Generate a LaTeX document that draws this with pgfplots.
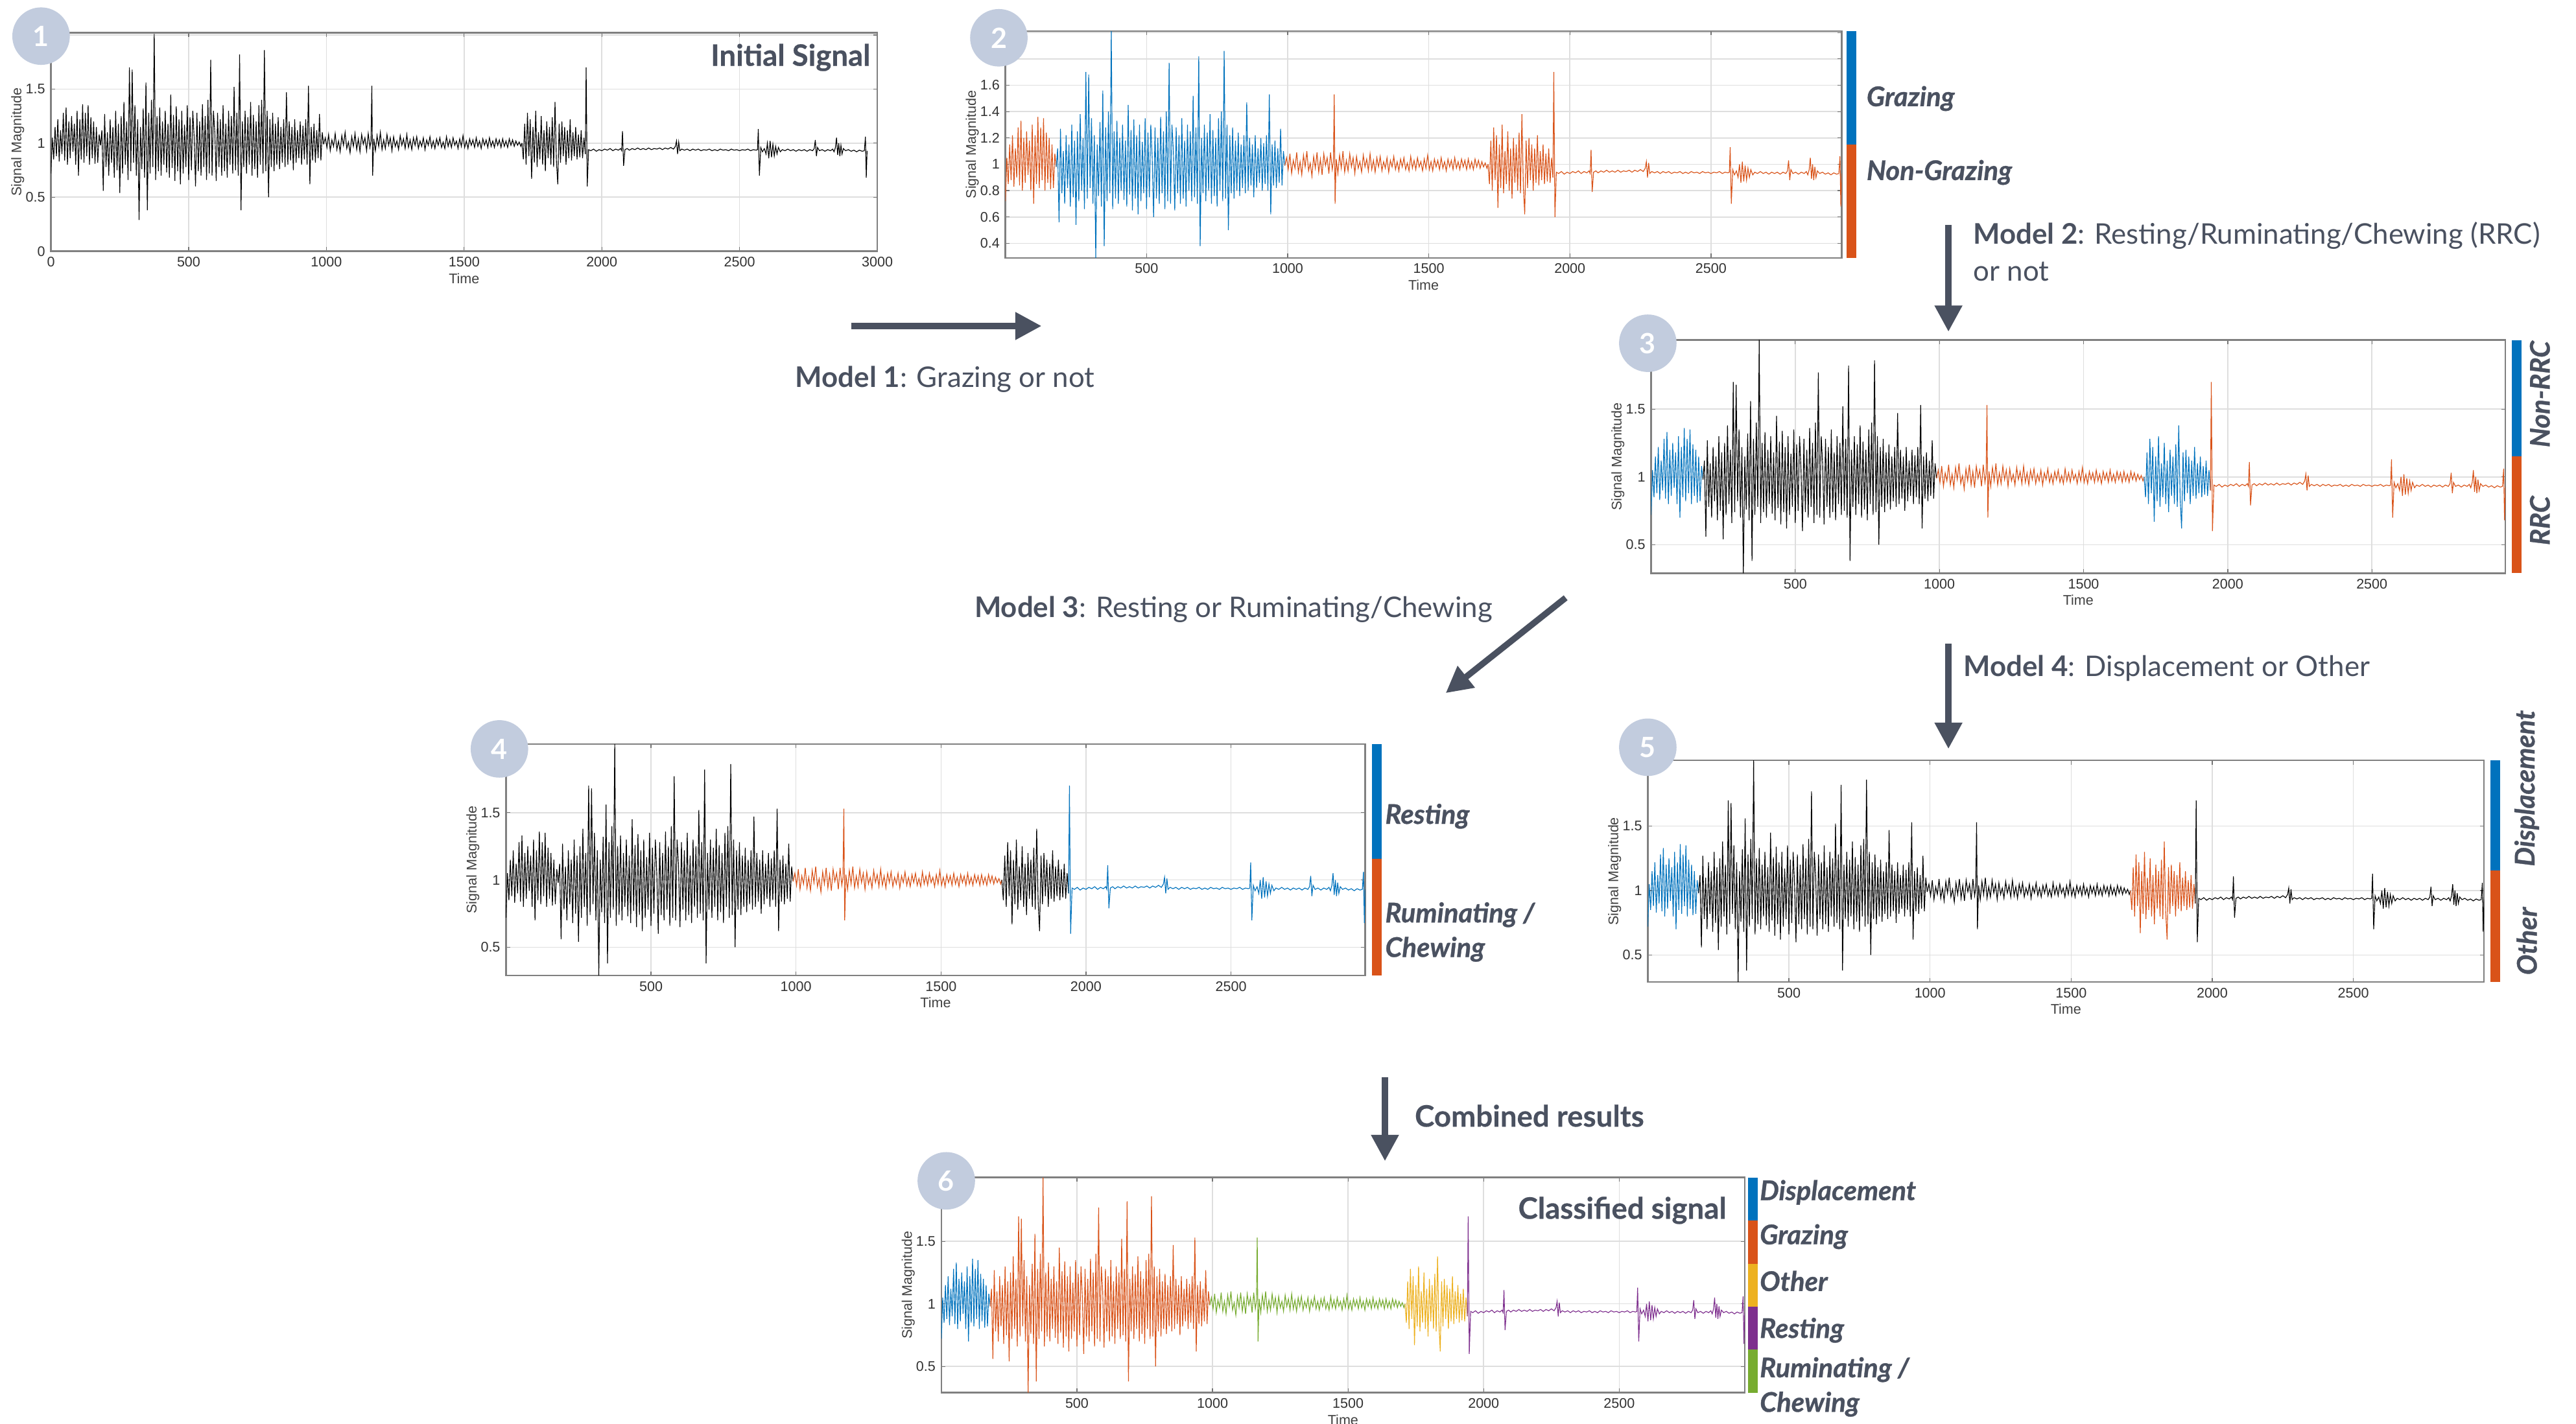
\documentclass[border=0pt]{standalone}
\usepackage{fontspec}
\setmainfont{Lato}
\newfontfamily\helv{Liberation Sans}
\usepackage{pgfplots}
\pgfplotsset{compat=1.18}
\usepackage{pgfplotstable}
\usetikzlibrary{arrows.meta}

\definecolor{mblue}{RGB}{0,114,189}
\definecolor{morange}{RGB}{217,83,25}
\definecolor{myellow}{RGB}{237,177,32}
\definecolor{mpurple}{RGB}{126,47,142}
\definecolor{mgreen}{RGB}{119,172,48}
\definecolor{slate}{RGB}{74,81,96}
\definecolor{badge}{RGB}{194,204,222}

% segment A: displacement (0-180)
\pgfplotstableread[row sep=\\]{t v\\
0 0.72\\ 5 1.05\\ 10 0.85\\ 15 1.15\\ 20 0.88\\ 25 1.22\\ 30 0.83\\ 35 1.12\\ 40 0.90\\ 45 1.28\\ 50 0.84\\ 55 1.33\\ 60 0.80\\ 65 1.20\\ 70 0.86\\ 75 1.25\\ 80 0.92\\ 85 1.18\\ 90 0.80\\ 95 1.30\\ 100 0.70\\ 105 1.22\\ 110 0.85\\ 115 1.36\\ 120 0.82\\ 125 1.28\\ 130 0.88\\ 135 1.35\\ 140 0.80\\ 145 1.24\\ 150 0.86\\ 155 1.20\\ 160 0.81\\ 165 1.15\\ 170 0.82\\ 175 1.08\\ 180 0.98\\
}\segA

% segment B: grazing (180-990)
\pgfplotstableread[row sep=\\]{t v\\
180 0.98\\ 185 1.12\\ 190 0.56\\ 195 1.27\\ 200 0.78\\ 205 1.10\\ 210 0.70\\ 215 1.22\\ 220 0.82\\ 225 1.15\\ 230 0.68\\ 235 1.30\\ 240 0.75\\ 245 1.18\\ 250 0.54\\ 255 1.25\\ 260 0.72\\ 265 1.38\\ 270 0.80\\ 275 1.20\\ 280 0.66\\ 285 1.70\\ 290 0.74\\ 295 1.68\\ 300 0.82\\ 305 1.35\\ 310 0.70\\ 315 1.22\\ 320 0.29\\ 325 1.15\\ 330 0.76\\ 335 1.32\\ 340 0.68\\ 345 1.56\\ 350 0.38\\ 355 1.28\\ 360 0.72\\ 365 1.40\\ 370 0.78\\ 375 2.01\\ 380 0.66\\ 385 1.25\\ 390 0.74\\ 395 1.33\\ 400 0.70\\ 405 1.20\\ 410 0.80\\ 415 1.30\\ 420 0.73\\ 425 1.18\\ 430 0.68\\ 435 1.45\\ 440 0.77\\ 445 1.26\\ 450 0.65\\ 455 1.34\\ 460 0.74\\ 465 1.22\\ 470 0.62\\ 475 1.30\\ 480 0.72\\ 485 1.17\\ 490 0.78\\ 495 1.35\\ 500 0.66\\ 505 1.24\\ 510 0.75\\ 515 1.30\\ 520 1.05\\ 525 0.60\\ 530 1.28\\ 535 0.74\\ 540 1.20\\ 545 0.70\\ 550 1.36\\ 555 0.78\\ 560 1.25\\ 565 0.66\\ 570 1.40\\ 575 0.72\\ 580 1.77\\ 585 0.70\\ 590 1.30\\ 595 1.10\\ 600 0.65\\ 605 1.28\\ 610 0.78\\ 615 1.22\\ 620 0.70\\ 625 1.35\\ 630 0.74\\ 635 1.18\\ 640 0.68\\ 645 1.30\\ 650 0.80\\ 655 1.25\\ 660 0.72\\ 665 1.52\\ 670 0.75\\ 675 1.28\\ 680 0.70\\ 685 1.82\\ 690 0.38\\ 695 1.20\\ 700 0.78\\ 705 1.30\\ 710 0.72\\ 715 1.24\\ 720 0.80\\ 725 1.38\\ 730 0.70\\ 735 1.26\\ 740 0.76\\ 745 1.20\\ 750 0.68\\ 755 1.35\\ 760 0.80\\ 765 1.40\\ 770 0.72\\ 775 1.86\\ 780 0.74\\ 785 1.30\\ 790 0.50\\ 795 1.22\\ 800 0.78\\ 805 1.28\\ 810 0.74\\ 815 1.18\\ 820 0.80\\ 825 1.24\\ 830 0.76\\ 835 1.15\\ 840 0.82\\ 845 1.22\\ 850 0.78\\ 855 1.47\\ 860 0.80\\ 865 1.20\\ 870 0.84\\ 875 1.15\\ 880 0.75\\ 885 1.22\\ 890 0.82\\ 895 1.12\\ 900 0.86\\ 905 1.20\\ 910 0.80\\ 915 1.16\\ 920 0.85\\ 925 1.22\\ 930 0.80\\ 935 1.53\\ 940 0.62\\ 945 1.15\\ 950 0.84\\ 955 1.18\\ 960 0.82\\ 965 1.12\\ 970 0.86\\ 975 1.27\\ 980 0.84\\ 985 1.10\\ 990 0.99\\
}\segB

% segment C: ruminating / chewing (990-1710)
\pgfplotstableread[row sep=\\]{t v\\
990 0.99\\ 996 1.05\\ 1002 0.96\\ 1008 1.08\\ 1014 0.93\\ 1020 1.03\\ 1026 0.97\\ 1032 1.09\\ 1038 0.94\\ 1044 1.02\\ 1050 0.92\\ 1056 1.07\\ 1062 0.98\\ 1068 1.10\\ 1074 0.95\\ 1080 1.01\\ 1086 0.91\\ 1092 1.06\\ 1098 0.97\\ 1104 1.09\\ 1110 0.94\\ 1116 1.04\\ 1122 0.92\\ 1128 1.08\\ 1134 0.99\\ 1140 1.05\\ 1146 0.93\\ 1152 1.09\\ 1158 0.96\\ 1162 1.02\\ 1165 1.53\\ 1168 0.70\\ 1172 1.04\\ 1178 0.93\\ 1184 1.07\\ 1190 0.97\\ 1196 1.10\\ 1202 0.94\\ 1208 1.03\\ 1214 0.95\\ 1220 1.08\\ 1226 0.98\\ 1232 1.05\\ 1238 0.93\\ 1244 1.06\\ 1250 0.97\\ 1256 1.02\\ 1262 0.94\\ 1268 1.07\\ 1274 0.98\\ 1280 1.04\\ 1286 0.95\\ 1292 1.08\\ 1298 0.96\\ 1304 1.03\\ 1310 0.94\\ 1316 1.05\\ 1322 0.98\\ 1328 1.06\\ 1334 0.95\\ 1340 1.02\\ 1346 0.97\\ 1352 1.05\\ 1358 0.94\\ 1364 1.03\\ 1370 0.98\\ 1376 1.06\\ 1382 0.96\\ 1388 1.02\\ 1394 0.95\\ 1400 1.04\\ 1406 0.98\\ 1412 1.05\\ 1418 0.96\\ 1424 1.01\\ 1430 0.95\\ 1436 1.06\\ 1442 0.97\\ 1448 1.03\\ 1454 0.96\\ 1460 1.05\\ 1466 0.98\\ 1472 1.02\\ 1478 0.95\\ 1484 1.04\\ 1490 0.97\\ 1496 1.07\\ 1502 0.96\\ 1508 1.02\\ 1514 0.95\\ 1520 1.04\\ 1526 0.98\\ 1532 1.03\\ 1538 0.96\\ 1544 1.05\\ 1550 0.97\\ 1556 1.02\\ 1562 0.95\\ 1568 1.04\\ 1574 0.98\\ 1580 1.03\\ 1586 0.96\\ 1592 1.05\\ 1598 0.97\\ 1604 1.02\\ 1610 0.96\\ 1616 1.04\\ 1622 0.98\\ 1628 1.03\\ 1634 0.96\\ 1640 1.04\\ 1646 0.97\\ 1652 1.02\\ 1658 0.96\\ 1664 1.04\\ 1670 0.98\\ 1676 1.03\\ 1682 0.97\\ 1688 1.02\\ 1694 0.98\\ 1700 1.01\\ 1706 0.97\\ 1710 1.00\\
}\segC

% segment D: other (1710-1940)
\pgfplotstableread[row sep=\\]{t v\\
1710 1.00\\ 1715 0.85\\ 1720 1.18\\ 1725 0.80\\ 1730 1.28\\ 1735 0.88\\ 1740 1.22\\ 1745 0.67\\ 1750 1.15\\ 1755 0.82\\ 1760 1.30\\ 1765 0.78\\ 1770 1.10\\ 1775 0.85\\ 1780 1.25\\ 1785 0.80\\ 1790 1.12\\ 1795 0.74\\ 1800 1.20\\ 1805 0.86\\ 1810 1.15\\ 1815 0.80\\ 1820 1.24\\ 1825 0.78\\ 1830 1.38\\ 1835 0.84\\ 1840 0.62\\ 1845 1.18\\ 1850 0.82\\ 1855 1.20\\ 1860 0.88\\ 1865 1.15\\ 1870 0.80\\ 1875 1.12\\ 1880 0.86\\ 1885 1.22\\ 1890 0.84\\ 1895 1.10\\ 1900 0.88\\ 1905 1.15\\ 1910 0.85\\ 1915 1.08\\ 1920 0.87\\ 1925 1.12\\ 1930 0.86\\ 1935 1.05\\ 1940 0.90\\
}\segD

% segment E: resting (1940-2963)
\pgfplotstableread[row sep=\\]{t v\\
1940 0.90\\ 1943 1.70\\ 1947 0.60\\ 1952 0.94\\ 1960 0.93\\ 1970 0.945\\ 1980 0.925\\ 1990 0.94\\ 2000 0.93\\ 2010 0.945\\ 2020 0.935\\ 2030 0.95\\ 2040 0.93\\ 2050 0.945\\ 2060 0.935\\ 2068 0.95\\ 2072 0.93\\ 2075 1.11\\ 2079 0.79\\ 2084 0.94\\ 2092 0.95\\ 2100 0.935\\ 2110 0.95\\ 2120 0.94\\ 2130 0.955\\ 2140 0.94\\ 2150 0.95\\ 2160 0.94\\ 2170 0.955\\ 2180 0.94\\ 2190 0.95\\ 2200 0.945\\ 2210 0.955\\ 2220 0.94\\ 2230 0.955\\ 2240 0.945\\ 2250 0.96\\ 2260 0.945\\ 2267 0.97\\ 2271 1.02\\ 2275 0.90\\ 2279 1.01\\ 2283 0.93\\ 2290 0.945\\ 2300 0.935\\ 2310 0.945\\ 2320 0.93\\ 2330 0.945\\ 2340 0.935\\ 2350 0.945\\ 2360 0.93\\ 2370 0.94\\ 2380 0.935\\ 2390 0.945\\ 2400 0.93\\ 2410 0.94\\ 2420 0.93\\ 2430 0.945\\ 2440 0.935\\ 2450 0.94\\ 2460 0.93\\ 2470 0.945\\ 2480 0.935\\ 2490 0.94\\ 2500 0.93\\ 2510 0.94\\ 2520 0.935\\ 2530 0.945\\ 2540 0.93\\ 2550 0.94\\ 2560 0.935\\ 2565 0.94\\ 2568 1.13\\ 2572 0.70\\ 2577 0.96\\ 2583 0.92\\ 2590 0.95\\ 2596 0.90\\ 2601 1.00\\ 2606 0.86\\ 2611 1.02\\ 2616 0.87\\ 2621 0.99\\ 2626 0.88\\ 2631 0.97\\ 2636 0.90\\ 2641 0.96\\ 2648 0.92\\ 2655 0.94\\ 2665 0.93\\ 2675 0.945\\ 2685 0.93\\ 2695 0.94\\ 2705 0.925\\ 2715 0.94\\ 2725 0.93\\ 2735 0.94\\ 2745 0.925\\ 2755 0.94\\ 2765 0.93\\ 2771 0.95\\ 2775 1.03\\ 2779 0.88\\ 2783 0.96\\ 2790 0.93\\ 2800 0.94\\ 2810 0.925\\ 2820 0.94\\ 2830 0.93\\ 2838 0.945\\ 2843 0.92\\ 2848 0.96\\ 2852 1.05\\ 2856 0.89\\ 2860 1.00\\ 2864 0.88\\ 2868 0.98\\ 2872 0.90\\ 2877 0.95\\ 2885 0.93\\ 2895 0.94\\ 2905 0.925\\ 2915 0.935\\ 2925 0.92\\ 2935 0.935\\ 2945 0.925\\ 2953 0.93\\ 2957 1.06\\ 2960 0.68\\ 2963 0.93\\
}\segE

\newcommand\sig[2]{\addplot[#1] table[x=t,y=v]{#2};}
\newcommand\fs[1]{\fontsize{#1}{#1}\selectfont}

\pgfplotsset{
  panel/.style={
    scale only axis, anchor=south west,
    xmin=0, xmax=2963, ymin=0.29, ymax=2.01,
    xtick={500,1000,1500,2000,2500},
    xticklabels={500,1000,1500,2000,2500},
    ytick={0.5,1,1.5}, yticklabels={0.5,1,1.5},
    scaled ticks=false,
    grid=major,
    major grid style={black!13, line width=0.6pt},
    axis line style={black!50, line width=1pt},
    tick align=inside, major tick length=2.5pt,
    tick style={black!55, line width=0.5pt},
    tick label style={font=\helv\fs{8.5}, text=black!80},
    label style={font=\helv\fs{8.5}, text=black!75},
    xlabel={Time}, ylabel={Signal Magnitude},
    xlabel style={yshift=3pt},
    ylabel style={yshift=-6pt},
    /pgf/number format/assume math mode=true,
    every axis plot/.append style={line width=0.45pt, mark=none},
  },
}
\tikzset{
  lab/.style={text=slate, inner sep=0pt, font=\bfseries\itshape\fs{16.5}\addfontfeatures{FakeBold=0.8}},
  ttl/.style={text=slate, inner sep=0pt, font=\bfseries\fs{18}\addfontfeatures{FakeBold=0.5}},
  mdl/.style={text=slate, inner sep=0pt, anchor=base west, font=\fs{17.3}},
  flow/.style={draw=slate, line width=3.8pt, -{Triangle[length=16pt,width=16pt]}},
}

\begin{document}
\begin{tikzpicture}[x=1pt,y=-1pt]
\useasboundingbox (0,0) rectangle (1568,867);
\fill[white] (0,0) rectangle (1568,867);

% ---------- Panel 1 ----------
\begin{axis}[panel, at={(31pt,-153pt)}, width=503pt, height=133pt,
  xmin=0, xmax=3000, ymin=0, ymax=2.02,
  xtick={0,500,1000,1500,2000,2500,3000},
  xticklabels={0,500,1000,1500,2000,2500,3000},
  ytick={0,0.5,1,1.5,2}, yticklabels={0,0.5,1,1.5,}]
\sig{black}{\segA}\sig{black}{\segB}\sig{black}{\segC}\sig{black}{\segD}\sig{black}{\segE}
\end{axis}

% ---------- Panel 2 ----------
\begin{axis}[panel, at={(612pt,-157pt)}, width=509pt, height=138pt,
  ytick={0.4,0.6,0.8,1,1.2,1.4,1.6,1.8,2},
  yticklabels={0.4,0.6,0.8,1,1.2,1.4,1.6,,}]
\sig{morange}{\segA}\sig{mblue}{\segB}\sig{morange}{\segC}\sig{morange}{\segD}\sig{morange}{\segE}
\end{axis}

% ---------- Panel 3 ----------
\begin{axis}[panel, at={(1005pt,-349pt)}, width=520pt, height=142pt]
\sig{mblue}{\segA}\sig{black}{\segB}\sig{morange}{\segC}\sig{mblue}{\segD}\sig{morange}{\segE}
\end{axis}

% ---------- Panel 4 ----------
\begin{axis}[panel, at={(308pt,-594pt)}, width=523pt, height=141pt]
\sig{black}{\segA}\sig{black}{\segB}\sig{morange}{\segC}\sig{black}{\segD}\sig{mblue}{\segE}
\end{axis}

% ---------- Panel 5 ----------
\begin{axis}[panel, at={(1003pt,-598pt)}, width=509pt, height=135pt]
\sig{mblue}{\segA}\sig{black}{\segB}\sig{black}{\segC}\sig{morange}{\segD}\sig{black}{\segE}
\end{axis}

% ---------- Panel 6 ----------
\begin{axis}[panel, at={(573pt,-848pt)}, width=489pt, height=131pt]
\sig{mblue}{\segA}\sig{morange}{\segB}\sig{mgreen}{\segC}\sig{myellow}{\segD}\sig{mpurple}{\segE}
\end{axis}

% ---------- colour bars ----------
\fill[mblue] (1124,19) rectangle (1130,88);
\fill[morange] (1124,88) rectangle (1130,157);
\fill[mblue] (1529,207) rectangle (1535,278);
\fill[morange] (1529,278) rectangle (1535,349);
\fill[mblue] (835,453) rectangle (841,523);
\fill[morange] (835,523) rectangle (841,594);
\fill[mblue] (1516,463) rectangle (1522,530);
\fill[morange] (1516,530) rectangle (1522,598);
\fill[mblue] (1064,717) rectangle (1070,743.2);
\fill[morange] (1064,743.2) rectangle (1070,769.4);
\fill[myellow] (1064,769.4) rectangle (1070,795.6);
\fill[mpurple] (1064,795.6) rectangle (1070,821.8);
\fill[mgreen] (1064,821.8) rectangle (1070,848);

% ---------- side labels ----------
\node[lab, anchor=west] at (1136,60) {Grazing};
\node[lab, anchor=west] at (1136,105) {Non-Grazing};
\node[lab, rotate=90] at (1546,240) {Non-RRC};
\node[lab, rotate=90] at (1546,317) {RRC};
\node[lab, anchor=west] at (843,497) {Resting};
\node[lab, anchor=west] at (843,557) {Ruminating /};
\node[lab, anchor=west] at (843,578) {Chewing};
\node[lab, rotate=90] at (1538,480) {Displacement};
\node[lab, rotate=90] at (1538,573) {Other};
\node[lab, anchor=west] at (1071,726) {Displacement};
\node[lab, anchor=west] at (1071,753) {Grazing};
\node[lab, anchor=west] at (1071,780) {Other};
\node[lab, anchor=west] at (1071,810) {Resting};
\node[lab, anchor=west] at (1071,834) {Ruminating /};
\node[lab, anchor=west] at (1071,855) {Chewing};

% ---------- titles ----------
\node[ttl, anchor=east] at (530,35) {Initial Signal};
\node[ttl, anchor=east] at (1051,737) {Classified signal};

% ---------- badges ----------
\foreach \n/\bx/\by in {1/25/22, 2/608/23, 3/1003/209, 4/304/456, 5/1003/455, 6/576/719}{
  \fill[badge] (\bx,\by) circle (17.5);
  \node[text=white, font=\bfseries\fs{17}] at (\bx,\by) {\n};
}

% ---------- arrows ----------
\draw[flow] (518,198.5) -- (634,198.5);
\draw[flow] (1186,137) -- (1186,202);
\draw[flow] (953,364) -- (880,422);
\draw[flow] (1186,392) -- (1186,456);
\draw[flow] (843,656) -- (843,707);

% ---------- model texts ----------
\node[mdl] at (484,236) {\textbf{Model 1}: Grazing or not};
\node[mdl] at (1201,148.5) {\textbf{Model 2}: Resting/Ruminating/Chewing (RRC)};
\node[mdl] at (1201,171) {or not};
\node[mdl] at (593,376) {\textbf{Model 3}: Resting or Ruminating/Chewing};
\node[mdl] at (1195,412) {\textbf{Model 4}: Displacement or Other};
\node[mdl, font=\bfseries\fs{18}\addfontfeatures{FakeBold=0.4}] at (861,686) {Combined results};
\end{tikzpicture}
\end{document}
